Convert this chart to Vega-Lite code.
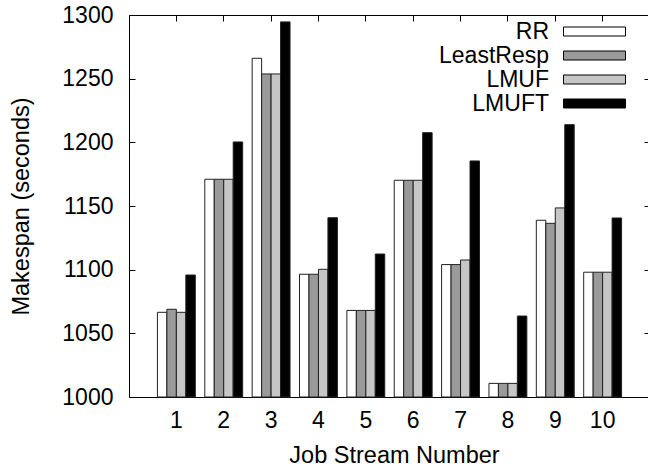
{
  "$schema": "https://vega.github.io/schema/vega-lite/v6.json",
  "width": 521,
  "height": 382,
  "autosize": {"type": "none"},
  "padding": {"left": 129, "top": 15, "right": 0, "bottom": 70},
  "background": "white",
  "config": {
    "font": "Liberation Sans",
    "view": {"stroke": null},
    "axis": {
      "domainColor": "black",
      "domainWidth": 1,
      "tickColor": "black",
      "tickWidth": 1,
      "tickSize": -6,
      "labelFont": "Liberation Sans",
      "labelFontSize": 23,
      "labelColor": "black",
      "titleFont": "Liberation Sans",
      "titleFontSize": 23.5,
      "titleFontWeight": "normal",
      "titleColor": "black",
      "grid": false
    },
    "legend": {
      "orient": "none",
      "legendX": 454,
      "legendY": 5,
      "padding": 0,
      "symbolType": "M-3.1,-0.45H3.1V0.45H-3.1Z",
      "symbolSize": 400,
      "symbolStrokeColor": "black",
      "symbolStrokeWidth": 1,
      "symbolOpacity": 1,
      "labelAlign": "right",
      "labelOffset": -57,
      "labelFont": "Liberation Sans",
      "labelFontSize": 23,
      "labelColor": "black",
      "labelLimit": 300,
      "rowPadding": 0
    }
  },
  "data": {
    "values": [
      {"job": 1, "policy": "RR", "makespan": 1066.5},
      {"job": 1, "policy": "LeastResp", "makespan": 1068.9},
      {"job": 1, "policy": "LMUF", "makespan": 1066.5},
      {"job": 1, "policy": "LMUFT", "makespan": 1095.8},
      {"job": 2, "policy": "RR", "makespan": 1171},
      {"job": 2, "policy": "LeastResp", "makespan": 1171},
      {"job": 2, "policy": "LMUF", "makespan": 1171},
      {"job": 2, "policy": "LMUFT", "makespan": 1200.3},
      {"job": 3, "policy": "RR", "makespan": 1266},
      {"job": 3, "policy": "LeastResp", "makespan": 1253.7},
      {"job": 3, "policy": "LMUF", "makespan": 1253.7},
      {"job": 3, "policy": "LMUFT", "makespan": 1294.6},
      {"job": 4, "policy": "RR", "makespan": 1096.4},
      {"job": 4, "policy": "LeastResp", "makespan": 1096.4},
      {"job": 4, "policy": "LMUF", "makespan": 1100.3},
      {"job": 4, "policy": "LMUFT", "makespan": 1140.8},
      {"job": 5, "policy": "RR", "makespan": 1068},
      {"job": 5, "policy": "LeastResp", "makespan": 1068},
      {"job": 5, "policy": "LMUF", "makespan": 1068},
      {"job": 5, "policy": "LMUFT", "makespan": 1112.3},
      {"job": 6, "policy": "RR", "makespan": 1170.2},
      {"job": 6, "policy": "LeastResp", "makespan": 1170.2},
      {"job": 6, "policy": "LMUF", "makespan": 1170.2},
      {"job": 6, "policy": "LMUFT", "makespan": 1207.6},
      {"job": 7, "policy": "RR", "makespan": 1104},
      {"job": 7, "policy": "LeastResp", "makespan": 1104},
      {"job": 7, "policy": "LMUF", "makespan": 1107.6},
      {"job": 7, "policy": "LMUFT", "makespan": 1185.4},
      {"job": 8, "policy": "RR", "makespan": 1010.7},
      {"job": 8, "policy": "LeastResp", "makespan": 1010.7},
      {"job": 8, "policy": "LMUF", "makespan": 1010.7},
      {"job": 8, "policy": "LMUFT", "makespan": 1063.6},
      {"job": 9, "policy": "RR", "makespan": 1138.8},
      {"job": 9, "policy": "LeastResp", "makespan": 1136.4},
      {"job": 9, "policy": "LMUF", "makespan": 1148.5},
      {"job": 9, "policy": "LMUFT", "makespan": 1213.9},
      {"job": 10, "policy": "RR", "makespan": 1098},
      {"job": 10, "policy": "LeastResp", "makespan": 1098},
      {"job": 10, "policy": "LMUF", "makespan": 1098},
      {"job": 10, "policy": "LMUFT", "makespan": 1140.6}
    ]
  },
  "layer": [
    {
      "mark": {"type": "bar", "stroke": "#222222", "strokeWidth": 1},
      "encoding": {
        "x": {
          "field": "job", "type": "ordinal",
          "scale": {"paddingInner": 0.2, "paddingOuter": 0.6},
          "axis": {"orient": "bottom", "labelAngle": 0, "labelBaseline": "alphabetic", "labelPadding": 36, "title": "Job Stream Number", "titleX": 265, "titleY": 65, "titleBaseline": "alphabetic"}
        },
        "xOffset": {
          "field": "policy", "type": "nominal",
          "scale": {"domain": ["RR", "LeastResp", "LMUF", "LMUFT"], "paddingInner": 0, "paddingOuter": 0}
        },
        "y": {
          "field": "makespan", "type": "quantitative",
          "scale": {"domain": [1000, 1300], "nice": false, "zero": false},
          "axis": {"orient": "left", "format": "d", "values": [1000, 1050, 1100, 1150, 1200, 1250, 1300], "labelPadding": 22, "title": "Makespan (seconds)", "titleX": -101, "titleY": 191, "titleAngle": -90, "titleBaseline": "alphabetic", "titleAlign": "center"}
        },
        "y2": {"datum": 1000},
        "color": {
          "field": "policy", "type": "nominal",
          "scale": {"domain": ["RR", "LeastResp", "LMUF", "LMUFT"], "range": ["#ffffff", "#9a9a9a", "#c6c6c6", "#000000"]},
          "legend": {"title": null}
        }
      }
    },
    {
      "mark": {"type": "bar", "opacity": 0},
      "encoding": {
        "x": {
          "field": "job", "type": "ordinal",
          "axis": {"orient": "top", "labels": false, "title": null}
        },
        "xOffset": {"field": "policy", "type": "nominal"},
        "y": {
          "field": "makespan", "type": "quantitative",
          "axis": {"orient": "right", "labels": false, "title": null, "values": [1000, 1050, 1100, 1150, 1200, 1250, 1300]}
        },
        "y2": {"datum": 1000}
      }
    }
  ],
  "resolve": {"axis": {"x": "independent", "y": "independent"}}
}
